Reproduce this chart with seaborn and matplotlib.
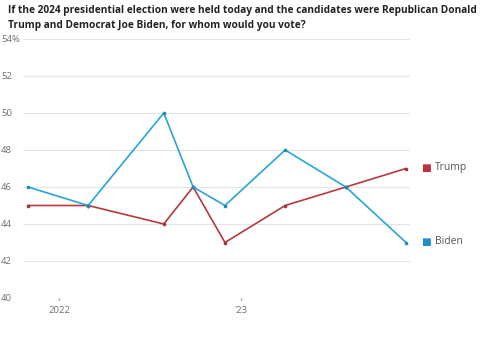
import matplotlib
matplotlib.use("Agg")
import matplotlib.pyplot as plt
import seaborn as sns
import pandas as pd

# ---- data ----
poll_dates = ["2021-10-30", "2022-02-28", "2022-07-30", "2022-09-27",
              "2022-11-30", "2023-03-31", "2023-07-31", "2023-11-29"]
trump = [45, 45, 44, 46, 43, 45, 46, 47]
biden = [46, 45, 50, 46, 45, 48, 46, 43]
series_names = ["Trump", "Biden"]
y_ticks = [40, 42, 44, 46, 48, 50, 52, 54]
y_tick_labels = ["40", "42", "44", "46", "48", "50", "52", "54%"]
x_ticks = ["2022-01-01", "2023-01-01"]
x_tick_labels = ["2022", "'23"]
title = ("If the 2024 presidential election were held today and the candidates were Republican Donald\n"
         "Trump and Democrat Joe Biden, for whom would you vote?")

df = pd.DataFrame({
    "date": pd.to_datetime(poll_dates * 2),
    "value": trump + biden,
    "candidate": [series_names[0]] * len(trump) + [series_names[1]] * len(biden),
})

line_colors = {"Trump": "#b8393d", "Biden": "#27a6d3"}
dot_colors = {"Trump": "#a8343a", "Biden": "#1d8bb5"}
legend_colors = {"Trump": "#c0303a", "Biden": "#1f8fcb"}

sns.set_style("white")
plt.rcParams["font.family"] = ["Open Sans", "DejaVu Sans"]

fig = plt.figure(figsize=(4.85, 3.6), dpi=100)
W, H = 485, 360
left, right, top, bottom = 23, 410, 39, 298
ax = fig.add_axes([left / W, 1 - bottom / H, (right - left) / W, (bottom - top) / H])

sns.lineplot(data=df, x="date", y="value", hue="candidate", palette=line_colors,
             linewidth=1.2, legend=False, ax=ax, zorder=3)
for name in series_names:
    sub = df[df.candidate == name]
    ax.scatter(sub["date"], sub["value"], s=7, color=dot_colors[name], zorder=4, linewidths=0)

ax.set_xlim(pd.Timestamp("2021-10-20"), pd.Timestamp("2023-12-07"))
ax.set_ylim(40, 54)
ax.set_yticks(y_ticks)
ax.set_yticklabels(y_tick_labels)
ax.set_xticks(pd.to_datetime(x_ticks))
ax.set_xticklabels(x_tick_labels)
ax.set_xlabel("")
ax.set_ylabel("")
for s in ax.spines.values():
    s.set_visible(False)
ax.grid(axis="y", color="#e4e4e4", linewidth=0.8, zorder=0)
ax.grid(axis="x", visible=False)
ax.tick_params(axis="y", length=0, pad=5, labelsize=6.8, labelcolor="#6f6f6f")
for lbl in ax.get_yticklabels():
    lbl.set_horizontalalignment("left")
    lbl.set_x(-15 / (right - left))
ax.tick_params(axis="x", bottom=True, length=1.3, width=1.0, color="#999999", pad=4.5,
               labelsize=6.8, labelcolor="#6f6f6f", direction="out")

# end-of-line labels
last_vals = {"Trump": trump[-1], "Biden": biden[-1]}
for name in series_names:
    ax.annotate("\u25A0", xy=(1.0, last_vals[name]), xycoords=("axes fraction", "data"),
                xytext=(8, 0), textcoords="offset points", color=legend_colors[name],
                fontsize=7.5, va="center", ha="left", annotation_clip=False,
                family=["DejaVu Sans"])
    ax.annotate(name, xy=(1.0, last_vals[name]), xycoords=("axes fraction", "data"),
                xytext=(18, 0.5), textcoords="offset points", color="#555555",
                fontsize=7.5, va="center", ha="left", annotation_clip=False)

fig.text(8 / W, 1 - 5 / H, title, ha="left", va="top", fontsize=7.25,
         fontweight="bold", color="#222222", linespacing=1.55)

fig.savefig("out.png", dpi=100)
